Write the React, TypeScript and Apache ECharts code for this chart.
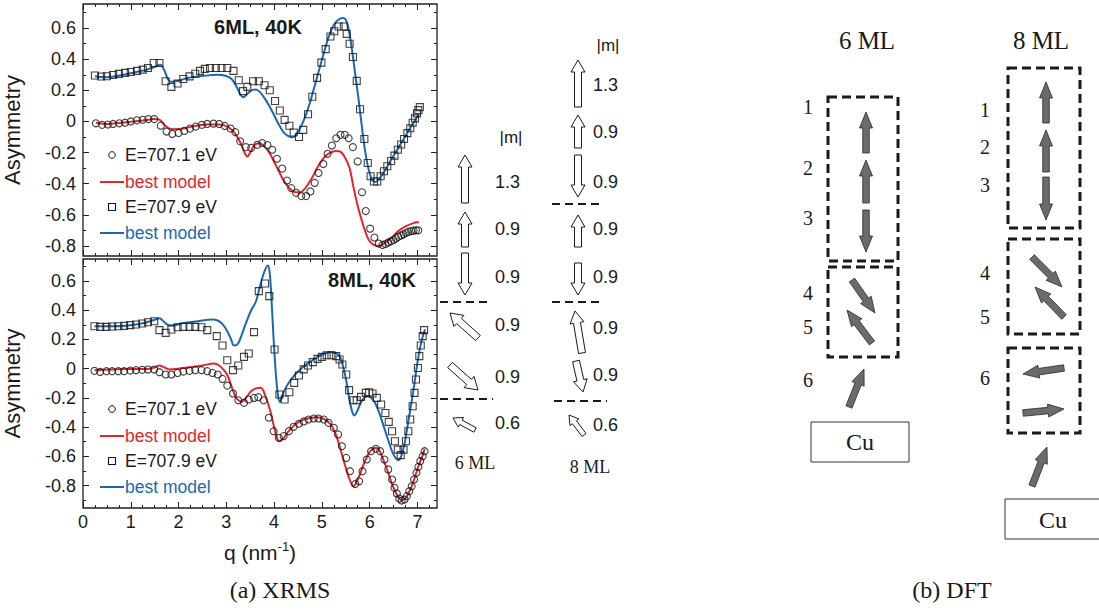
import { useEffect, useRef } from "react";
import * as echarts from "echarts";

// ---- 6 ML, 40 K ----
// E = 707.1 eV measured asymmetry
const q6Low = [0.27, 0.40, 0.52, 0.63, 0.76, 0.88, 1.00, 1.13, 1.25, 1.37, 1.49, 1.63, 1.75, 1.87, 2.00, 2.12, 2.24, 2.36, 2.49, 2.60, 2.73, 2.85, 2.97, 3.09, 3.19, 3.29, 3.41, 3.52, 3.65, 3.75, 3.86, 3.96, 4.06, 4.17, 4.27, 4.36, 4.46, 4.57, 4.67, 4.76, 4.85, 4.93, 5.03, 5.12, 5.21, 5.30, 5.39, 5.48, 5.56, 5.65, 5.75, 5.84, 5.92, 6.01, 6.10, 6.19, 6.27, 6.33, 6.39, 6.45, 6.50, 6.55, 6.60, 6.66, 6.71, 6.76, 6.81, 6.87, 6.92, 6.97, 7.02];
const a6Low = [-0.012, -0.022, -0.020, -0.016, -0.012, -0.008, 0.000, 0.007, 0.011, 0.015, 0.015, -0.027, -0.065, -0.080, -0.074, -0.061, -0.046, -0.033, -0.022, -0.016, -0.014, -0.016, -0.029, -0.046, -0.069, -0.128, -0.165, -0.170, -0.150, -0.139, -0.152, -0.182, -0.240, -0.303, -0.380, -0.429, -0.459, -0.480, -0.480, -0.450, -0.395, -0.331, -0.274, -0.208, -0.155, -0.108, -0.086, -0.086, -0.108, -0.165, -0.257, -0.455, -0.576, -0.689, -0.746, -0.785, -0.794, -0.788, -0.778, -0.770, -0.762, -0.752, -0.742, -0.733, -0.725, -0.717, -0.710, -0.705, -0.702, -0.700, -0.700];
// E = 707.9 eV measured asymmetry
const q6High = [0.25, 0.38, 0.50, 0.63, 0.75, 0.88, 1.00, 1.13, 1.25, 1.36, 1.48, 1.60, 1.73, 1.85, 1.98, 2.10, 2.23, 2.35, 2.45, 2.55, 2.66, 2.78, 2.90, 3.02, 3.15, 3.26, 3.35, 3.44, 3.56, 3.68, 3.80, 3.91, 4.02, 4.12, 4.22, 4.32, 4.41, 4.52, 4.61, 4.71, 4.80, 4.90, 4.99, 5.08, 5.18, 5.26, 5.35, 5.46, 5.52, 5.58, 5.65, 5.73, 5.80, 5.89, 5.96, 6.02, 6.09, 6.16, 6.23, 6.30, 6.37, 6.45, 6.52, 6.59, 6.66, 6.72, 6.79, 6.85, 6.90, 6.95, 6.99, 7.02, 7.05];
const a6High = [0.295, 0.289, 0.291, 0.299, 0.306, 0.312, 0.318, 0.325, 0.333, 0.344, 0.376, 0.376, 0.258, 0.222, 0.244, 0.273, 0.290, 0.307, 0.325, 0.338, 0.344, 0.344, 0.344, 0.344, 0.325, 0.265, 0.195, 0.222, 0.258, 0.258, 0.233, 0.201, 0.131, 0.070, 0.010, -0.028, -0.071, -0.100, -0.054, 0.046, 0.159, 0.280, 0.378, 0.465, 0.546, 0.580, 0.610, 0.610, 0.563, 0.499, 0.414, 0.261, 0.078, -0.113, -0.267, -0.352, -0.386, -0.386, -0.352, -0.320, -0.288, -0.254, -0.220, -0.182, -0.148, -0.113, -0.075, -0.044, -0.008, 0.020, 0.052, 0.073, 0.092];
// best-model curves
const q6LowFit = [0.27, 0.5, 0.8, 1.0, 1.3, 1.5, 1.6, 1.7, 1.8, 1.9, 2.1, 2.3, 2.6, 2.85, 3.0, 3.1, 3.2, 3.3, 3.38, 3.44, 3.5, 3.58, 3.68, 3.78, 3.9, 4.0, 4.1, 4.2, 4.32, 4.45, 4.55, 4.65, 4.78, 4.9, 5.0, 5.1, 5.2, 5.3, 5.38, 5.48, 5.58, 5.66, 5.74, 5.82, 5.9, 5.98, 6.07, 6.17, 6.3, 6.45, 6.6, 6.75, 6.9, 7.03];
const a6LowFit = [-0.008, -0.016, -0.008, -0.002, 0.008, 0.015, 0.012, -0.02, -0.045, -0.05, -0.045, -0.032, -0.02, -0.02, -0.03, -0.05, -0.085, -0.14, -0.2, -0.225, -0.2, -0.155, -0.14, -0.155, -0.2, -0.26, -0.32, -0.38, -0.43, -0.455, -0.455, -0.43, -0.37, -0.3, -0.25, -0.215, -0.198, -0.19, -0.193, -0.23, -0.3, -0.42, -0.53, -0.62, -0.7, -0.76, -0.79, -0.8, -0.785, -0.75, -0.705, -0.675, -0.655, -0.647];
const q6HighFit = [0.25, 0.45, 0.7, 1.0, 1.3, 1.5, 1.62, 1.7, 1.78, 1.85, 2.0, 2.2, 2.5, 2.8, 3.0, 3.12, 3.22, 3.3, 3.36, 3.45, 3.55, 3.62, 3.7, 3.8, 3.9, 4.0, 4.1, 4.2, 4.3, 4.38, 4.45, 4.55, 4.65, 4.75, 4.85, 4.95, 5.05, 5.15, 5.25, 5.35, 5.45, 5.52, 5.58, 5.64, 5.7, 5.77, 5.84, 5.91, 5.98, 6.05, 6.12, 6.2, 6.35, 6.5, 6.7, 6.85, 7.03];
const a6HighFit = [0.29, 0.284, 0.292, 0.31, 0.33, 0.35, 0.365, 0.33, 0.27, 0.255, 0.262, 0.28, 0.292, 0.3, 0.292, 0.27, 0.22, 0.17, 0.155, 0.18, 0.203, 0.205, 0.19, 0.15, 0.1, 0.04, -0.02, -0.07, -0.095, -0.102, -0.09, -0.04, 0.03, 0.12, 0.23, 0.34, 0.45, 0.55, 0.62, 0.655, 0.665, 0.64, 0.56, 0.44, 0.3, 0.137, -0.04, -0.2, -0.31, -0.375, -0.39, -0.37, -0.3, -0.22, -0.12, -0.04, 0.045];

// ---- 8 ML, 40 K ----
const q8Low = [0.24, 0.36, 0.49, 0.61, 0.74, 0.86, 0.99, 1.11, 1.24, 1.36, 1.49, 1.60, 1.73, 1.85, 1.98, 2.10, 2.23, 2.35, 2.48, 2.60, 2.71, 2.82, 2.92, 3.02, 3.14, 3.25, 3.37, 3.47, 3.58, 3.67, 3.78, 3.89, 3.99, 4.10, 4.20, 4.31, 4.41, 4.52, 4.62, 4.72, 4.83, 4.93, 5.04, 5.14, 5.25, 5.34, 5.42, 5.51, 5.59, 5.70, 5.78, 5.85, 5.94, 6.03, 6.13, 6.22, 6.31, 6.39, 6.47, 6.52, 6.57, 6.62, 6.67, 6.73, 6.78, 6.83, 6.88, 6.93, 6.98, 7.02, 7.06, 7.11, 7.15];
const a8Low = [-0.015, -0.022, -0.017, -0.017, -0.017, -0.017, -0.013, -0.010, -0.008, -0.006, -0.006, -0.024, -0.040, -0.040, -0.029, -0.020, -0.015, -0.010, -0.010, -0.017, -0.029, -0.040, -0.070, -0.116, -0.170, -0.216, -0.234, -0.211, -0.200, -0.195, -0.216, -0.336, -0.428, -0.473, -0.462, -0.428, -0.398, -0.377, -0.361, -0.348, -0.341, -0.341, -0.348, -0.371, -0.405, -0.450, -0.531, -0.611, -0.702, -0.790, -0.771, -0.702, -0.622, -0.565, -0.549, -0.565, -0.622, -0.690, -0.759, -0.816, -0.855, -0.889, -0.903, -0.896, -0.873, -0.839, -0.805, -0.759, -0.713, -0.672, -0.633, -0.599, -0.565];
const q8High = [0.24, 0.36, 0.49, 0.61, 0.74, 0.86, 0.99, 1.11, 1.24, 1.36, 1.49, 1.60, 1.73, 1.85, 1.98, 2.10, 2.23, 2.35, 2.48, 2.60, 2.80, 2.92, 3.02, 3.14, 3.25, 3.37, 3.47, 3.58, 3.68, 3.81, 3.90, 4.01, 4.11, 4.22, 4.32, 4.42, 4.52, 4.62, 4.71, 4.81, 4.91, 5.00, 5.10, 5.20, 5.30, 5.37, 5.43, 5.51, 5.57, 5.66, 5.73, 5.82, 5.92, 5.99, 6.06, 6.15, 6.24, 6.33, 6.40, 6.47, 6.53, 6.59, 6.65, 6.71, 6.76, 6.81, 6.85, 6.90, 6.94, 6.97, 7.01, 7.04, 7.07, 7.11, 7.14];
const a8High = [0.291, 0.286, 0.286, 0.289, 0.291, 0.293, 0.298, 0.302, 0.309, 0.318, 0.325, 0.264, 0.245, 0.268, 0.284, 0.286, 0.286, 0.286, 0.284, 0.264, 0.223, 0.159, 0.058, -0.010, 0.022, 0.081, 0.104, 0.250, 0.531, 0.583, 0.497, 0.131, -0.177, -0.211, -0.161, -0.097, -0.047, -0.005, 0.022, 0.045, 0.067, 0.081, 0.092, 0.092, 0.086, 0.063, 0.029, -0.040, -0.147, -0.216, -0.216, -0.193, -0.166, -0.161, -0.170, -0.200, -0.245, -0.303, -0.364, -0.428, -0.497, -0.554, -0.592, -0.554, -0.497, -0.428, -0.348, -0.257, -0.166, -0.074, 0.005, 0.086, 0.159, 0.223, 0.264];
const q8LowFit = [0.24, 0.6, 1.0, 1.4, 1.5, 1.6, 1.7, 1.8, 1.95, 2.2, 2.5, 2.74, 2.85, 2.95, 3.03, 3.12, 3.2, 3.27, 3.33, 3.42, 3.52, 3.62, 3.72, 3.82, 3.93, 4.03, 4.11, 4.2, 4.3, 4.44, 4.6, 4.75, 4.9, 5.05, 5.18, 5.28, 5.36, 5.44, 5.52, 5.6, 5.66, 5.72, 5.8, 5.9, 6.0, 6.08, 6.14, 6.22, 6.3, 6.39, 6.47, 6.55, 6.62, 6.68, 6.74, 6.8, 6.88, 6.95, 7.02, 7.1, 7.15];
const a8LowFit = [-0.01, -0.005, -0.002, 0.0, 0.008, 0.022, 0.01, -0.005, -0.002, 0.008, 0.022, 0.035, 0.022, -0.01, -0.05, -0.131, -0.195, -0.22, -0.226, -0.195, -0.155, -0.135, -0.131, -0.188, -0.302, -0.439, -0.497, -0.475, -0.43, -0.382, -0.35, -0.337, -0.332, -0.345, -0.38, -0.44, -0.52, -0.61, -0.7, -0.775, -0.805, -0.78, -0.72, -0.635, -0.57, -0.545, -0.542, -0.57, -0.635, -0.713, -0.79, -0.85, -0.89, -0.9, -0.89, -0.86, -0.805, -0.74, -0.668, -0.6, -0.549];
const q8HighFit = [0.24, 0.6, 1.0, 1.3, 1.5, 1.6, 1.7, 1.8, 1.9, 2.1, 2.4, 2.7, 2.82, 2.92, 3.02, 3.1, 3.16, 3.24, 3.32, 3.42, 3.52, 3.62, 3.7, 3.77, 3.83, 3.87, 3.91, 3.95, 3.99, 4.04, 4.08, 4.12, 4.2, 4.3, 4.44, 4.6, 4.75, 5.0, 5.2, 5.3, 5.38, 5.46, 5.52, 5.58, 5.64, 5.68, 5.74, 5.82, 5.9, 5.97, 6.05, 6.13, 6.22, 6.3, 6.4, 6.48, 6.55, 6.6, 6.66, 6.72, 6.78, 6.84, 6.92, 7.0, 7.08, 7.16];
const a8HighFit = [0.291, 0.29, 0.298, 0.315, 0.335, 0.345, 0.32, 0.298, 0.298, 0.313, 0.325, 0.336, 0.33, 0.305, 0.257, 0.2, 0.159, 0.17, 0.23, 0.32, 0.4, 0.46, 0.56, 0.64, 0.69, 0.706, 0.65, 0.45, 0.2, -0.05, -0.18, -0.229, -0.16, -0.1, -0.04, 0.01, 0.045, 0.097, 0.113, 0.105, 0.08, -0.006, -0.1, -0.22, -0.3, -0.32, -0.29, -0.23, -0.195, -0.188, -0.205, -0.245, -0.32, -0.4, -0.5, -0.575, -0.615, -0.627, -0.6, -0.53, -0.42, -0.3, -0.142, 0.04, 0.18, 0.27];

// ---- axis ticks ----
const xTickLabels = [0, 1, 2, 3, 4, 5, 6, 7];
const xMinorTicks = [0.25, 0.5, 0.75, 1.25, 1.5, 1.75, 2.25, 2.5, 2.75, 3.25, 3.5, 3.75, 4.25, 4.5, 4.75, 5.25, 5.5, 5.75, 6.25, 6.5, 6.75, 7.25];
const yTickLabels = [-0.8, -0.6, -0.4, -0.2, 0, 0.2, 0.4, 0.6];
const yMinorTicks = [-0.9, -0.7, -0.5, -0.3, -0.1, 0.1, 0.3, 0.5, 0.7];

// ---- magnetic moment profiles ----
const moments6 = ["1.3", "0.9", "0.9", "0.9", "0.9", "0.6"];
const moments8 = ["1.3", "0.9", "0.9", "0.9", "0.9", "0.9", "0.9", "0.6"];
const dftLayers6 = ["1", "2", "3", "4", "5", "6"];
const dftLayers8 = ["1", "2", "3", "4", "5", "6"];

const RED = "#e3262b";
const BLUE = "#1a68b3";
const INK = "#1a1a1a";
const SANS = "'Liberation Sans', Arial, Helvetica, sans-serif";
const SERIF = "'Liberation Serif', 'Times New Roman', serif";

const pts = (q: number[], a: number[]) => q.map((v, i) => [v, a[i]]);

type Pt = [number, number];

function blockArrow(tail: Pt, head: Pt, sw: number, hw: number, hl: number, style: any) {
  const dx = head[0] - tail[0];
  const dy = head[1] - tail[1];
  const L = Math.hypot(dx, dy);
  const ux = dx / L, uy = dy / L;
  const nx = -uy, ny = ux;
  const bx = head[0] - ux * hl, by = head[1] - uy * hl;
  const points = [
    [tail[0] + (nx * sw) / 2, tail[1] + (ny * sw) / 2],
    [bx + (nx * sw) / 2, by + (ny * sw) / 2],
    [bx + (nx * hw) / 2, by + (ny * hw) / 2],
    [head[0], head[1]],
    [bx - (nx * hw) / 2, by - (ny * hw) / 2],
    [bx - (nx * sw) / 2, by - (ny * sw) / 2],
    [tail[0] - (nx * sw) / 2, tail[1] - (ny * sw) / 2],
  ];
  return { type: "polygon", shape: { points }, style };
}

const hollow = { fill: "#fff", stroke: INK, lineWidth: 1 };
const solid = { fill: "#6b6b6b", stroke: "#2a2a2a", lineWidth: 0.8 };

function txt(x: number, y: number, text: string, font: string, extra: any = {}) {
  return {
    type: "text",
    x,
    y,
    style: { text, font, fill: INK, textAlign: "left", textVerticalAlign: "middle", ...extra },
  };
}

function dashedLine(x1: number, x2: number, y: number) {
  return {
    type: "line",
    shape: { x1, y1: y, x2, y2: y },
    style: { stroke: INK, lineWidth: 2, lineDash: [8, 5] },
  };
}

function dashedBox(x: number, y: number, w: number, h: number) {
  return {
    type: "rect",
    shape: { x, y, width: w, height: h },
    style: { fill: "none", stroke: INK, lineWidth: 3, lineDash: [9, 5] },
  };
}

function legendBlock(top: number) {
  const rows = [top, top + 27, top + 52, top + 78];
  const f = `17.5px ${SANS}`;
  return [
    { type: "circle", shape: { cx: 112, cy: rows[0], r: 3.3 }, style: { fill: "none", stroke: "#111", lineWidth: 1 } },
    txt(125, rows[0], "E=707.1 eV", f),
    { type: "line", shape: { x1: 100, y1: rows[1], x2: 124, y2: rows[1] }, style: { stroke: RED, lineWidth: 2 } },
    txt(125, rows[1], "best model", f, { fill: RED }),
    { type: "rect", shape: { x: 108.5, y: rows[2] - 3.5, width: 7, height: 7 }, style: { fill: "none", stroke: "#111", lineWidth: 1.1 } },
    txt(125, rows[2], "E=707.9 eV", f),
    { type: "line", shape: { x1: 100, y1: rows[3], x2: 124, y2: rows[3] }, style: { stroke: BLUE, lineWidth: 2 } },
    txt(125, rows[3], "best model", f, { fill: BLUE }),
  ];
}

function buildGraphic() {
  const g: any[] = [];
  // panel titles
  g.push(txt(258, 27, "6ML, 40K", `bold 20px ${SANS}`, { textAlign: "center" }));
  g.push(txt(372, 280, "8ML, 40K", `bold 20px ${SANS}`, { textAlign: "center" }));
  g.push(...legendBlock(155));
  g.push(...legendBlock(409));

  // moment profile, 6 ML
  const mFont = `18px ${SANS}`;
  g.push(txt(511, 137, "|m|", `17px ${SANS}`, { textAlign: "center" }));
  const a6: [Pt, Pt, number, number, number][] = [
    [[465, 203], [465, 155], 7, 14, 12],
    [[465, 247], [465, 212], 7, 14, 12],
    [[465, 253], [465, 295], 7, 14, 12],
    [[478, 338], [450, 313], 7, 15, 12],
    [[450, 365], [478, 390], 7, 15, 12],
    [[475, 430], [453, 418], 5, 11, 9],
  ];
  a6.forEach(([t, h, sw, hw, hl]) => g.push(blockArrow(t, h, sw, hw, hl, hollow)));
  [182, 229, 277, 325, 377, 423].forEach((y, i) => g.push(txt(495, y, moments6[i], mFont)));
  g.push(dashedLine(440, 492, 302));
  g.push(dashedLine(440, 493, 399));
  g.push(txt(475, 463, "6 ML", `18px ${SERIF}`, { textAlign: "center" }));

  // moment profile, 8 ML
  g.push(txt(608, 45, "|m|", `17px ${SANS}`, { textAlign: "center" }));
  const a8: [Pt, Pt, number, number, number][] = [
    [[578, 107], [578, 60], 7, 14, 12],
    [[578, 148], [578, 115], 7, 14, 12],
    [[578, 155], [578, 197], 7, 14, 12],
    [[578, 247], [578, 215], 7, 14, 12],
    [[578, 263], [578, 295], 7, 14, 12],
    [[582, 353], [575, 311], 7, 14, 12],
    [[576, 361], [583, 392], 7, 14, 12],
    [[584, 435], [569, 415], 5, 11, 9],
  ];
  a8.forEach(([t, h, sw, hw, hl]) => g.push(blockArrow(t, h, sw, hw, hl, hollow)));
  [85, 132, 182, 229, 277, 328, 375, 425].forEach((y, i) => g.push(txt(593, y, moments8[i], mFont)));
  g.push(dashedLine(552, 603, 204));
  g.push(dashedLine(552, 603, 302));
  g.push(dashedLine(554, 607, 401));
  g.push(txt(590, 467, "8 ML", `18px ${SERIF}`, { textAlign: "center" }));

  // DFT spin structures
  const cuFont = `24px ${SERIF}`;
  const layerFont = `20px ${SERIF}`;
  g.push(txt(867, 40, "6 ML", `25px ${SERIF}`, { textAlign: "center" }));
  g.push(txt(1041, 40, "8 ML", `25px ${SERIF}`, { textAlign: "center" }));

  g.push(dashedBox(828, 97, 70, 164));
  g.push(dashedBox(828, 267, 70, 90));
  const d6: [Pt, Pt][] = [
    [[866, 153], [866, 112]],
    [[866, 203], [866, 160]],
    [[866, 210], [866, 252]],
    [[852, 280], [875, 313]],
    [[872, 343], [847, 310]],
    [[849, 407], [864, 369]],
  ];
  d6.forEach(([t, h]) => g.push(blockArrow(t, h, 6.5, 13, 16, solid)));
  [107, 168, 218, 293, 327, 380].forEach((y, i) => g.push(txt(808, y, dftLayers6[i], layerFont, { textAlign: "center" })));
  g.push({ type: "rect", shape: { x: 811, y: 422, width: 98, height: 40 }, style: { fill: "none", stroke: "#333", lineWidth: 1 } });
  g.push(txt(860, 442, "Cu", cuFont, { textAlign: "center" }));

  g.push(dashedBox(1008, 68, 72, 160));
  g.push(dashedBox(1008, 239, 72, 95));
  g.push(dashedBox(1008, 348, 72, 85));
  const d8: [Pt, Pt][] = [
    [[1046, 123], [1046, 82]],
    [[1046, 172], [1046, 130]],
    [[1046, 177], [1046, 220]],
    [[1032, 257], [1062, 287]],
    [[1064, 317], [1035, 287]],
    [[1064, 368], [1023, 374]],
    [[1023, 413], [1064, 409]],
    [[1032, 486], [1047, 447]],
  ];
  d8.forEach(([t, h]) => g.push(blockArrow(t, h, 6.5, 13, 16, solid)));
  [110, 147, 185, 273, 317, 378].forEach((y, i) => g.push(txt(985, y, dftLayers8[i], layerFont, { textAlign: "center" })));
  g.push({ type: "rect", shape: { x: 1005, y: 499, width: 100, height: 40 }, style: { fill: "none", stroke: "#333", lineWidth: 1 } });
  g.push(txt(1053, 520, "Cu", cuFont, { textAlign: "center" }));

  // sub-figure captions
  g.push(txt(280, 590, "(a) XRMS", `24px ${SERIF}`, { textAlign: "center" }));
  g.push(txt(952, 590, "(b) DFT", `24px ${SERIF}`, { textAlign: "center" }));
  return g;
}

const TOP_MIN = -0.865, TOP_MAX = 0.755;
const BOT_MIN = -0.954, BOT_MAX = 0.751;
const X_MAX = 7.41;

const tickStyle = { color: "#222", width: 1 };

// one value axis carrying either the labelled (major) ticks or the minor ticks on one side of a frame
function xAxisDef(grid: number, pos: "top" | "bottom", major: boolean, labels: boolean) {
  return {
    type: "value",
    gridIndex: grid,
    position: pos,
    min: 0,
    max: X_MAX,
    axisLine: { show: false, onZero: false },
    splitLine: { show: false },
    axisTick: { show: true, inside: true, length: major ? 6 : 3, customValues: major ? xTickLabels : xMinorTicks, lineStyle: tickStyle },
    axisLabel: labels
      ? { show: true, customValues: xTickLabels, margin: 5, fontSize: 18, fontFamily: SANS, color: INK }
      : { show: false },
    ...(labels
      ? {
          name: "q (nm{s|-1})",
          nameLocation: "middle",
          nameGap: 32,
          nameTextStyle: {
            fontSize: 21,
            fontFamily: SANS,
            color: INK,
            rich: { s: { fontSize: 13, fontFamily: SANS, color: INK, verticalAlign: "top", lineHeight: 24 } },
          },
        }
      : {}),
  };
}

function yAxisDef(grid: number, pos: "left" | "right", major: boolean, labels: boolean, min: number, max: number) {
  return {
    type: "value",
    gridIndex: grid,
    position: pos,
    min,
    max,
    axisLine: { show: false, onZero: false },
    splitLine: { show: false },
    axisTick: { show: true, inside: true, length: major ? 6 : 3, customValues: major ? yTickLabels : yMinorTicks, lineStyle: tickStyle },
    axisLabel: labels
      ? { show: true, customValues: yTickLabels, margin: 7, fontSize: 18, fontFamily: SANS, color: INK }
      : { show: false },
    ...(labels
      ? {
          name: "Asymmetry",
          nameLocation: "middle",
          nameRotate: 90,
          nameGap: 60,
          nameTextStyle: { fontSize: 22, fontFamily: SANS, color: INK },
        }
      : {}),
  };
}

function lineSeries(xi: number, yi: number, data: number[][], color: string) {
  return {
    type: "line",
    xAxisIndex: xi,
    yAxisIndex: yi,
    data,
    showSymbol: false,
    smooth: 0.35,
    lineStyle: { color, width: 2 },
    z: 2,
  };
}

function markerSeries(xi: number, yi: number, data: number[][], symbol: string) {
  return {
    type: "scatter",
    xAxisIndex: xi,
    yAxisIndex: yi,
    data,
    symbol,
    symbolSize: 7,
    itemStyle: { color: "rgba(0,0,0,0)", borderColor: "#111", borderWidth: 1.1 },
    z: 3,
  };
}

export default function App() {
  const ref = useRef<HTMLDivElement>(null);
  useEffect(() => {
    if (!ref.current) return;
    const chart = echarts.init(ref.current, undefined, { renderer: "svg" });
    // axis index layout per grid: 0 bottom-major(labels) 1 bottom-minor 2 top-major 3 top-minor
    const xAxes = [0, 1].flatMap((gi) => [
      xAxisDef(gi, "bottom", true, gi === 1),
      xAxisDef(gi, "bottom", false, false),
      xAxisDef(gi, "top", true, false),
      xAxisDef(gi, "top", false, false),
    ]);
    const yAxes = [
      [0, TOP_MIN, TOP_MAX],
      [1, BOT_MIN, BOT_MAX],
    ].flatMap(([gi, mn, mx]) => [
      yAxisDef(gi, "left", true, true, mn, mx),
      yAxisDef(gi, "left", false, false, mn, mx),
      yAxisDef(gi, "right", true, false, mn, mx),
      yAxisDef(gi, "right", false, false, mn, mx),
    ]);
    chart.setOption({
      animation: false,
      backgroundColor: "#ffffff",
      grid: [
        { left: 82, top: 4, width: 355, height: 252, show: true, borderColor: "#1f1f1f", borderWidth: 1.3, backgroundColor: "transparent" },
        { left: 82, top: 259, width: 355, height: 249, show: true, borderColor: "#1f1f1f", borderWidth: 1.3, backgroundColor: "transparent" },
      ],
      xAxis: xAxes,
      yAxis: yAxes,
      series: [
        lineSeries(0, 0, pts(q6LowFit, a6LowFit), RED),
        lineSeries(0, 0, pts(q6HighFit, a6HighFit), BLUE),
        markerSeries(0, 0, pts(q6Low, a6Low), "circle"),
        markerSeries(0, 0, pts(q6High, a6High), "rect"),
        lineSeries(4, 4, pts(q8LowFit, a8LowFit), RED),
        lineSeries(4, 4, pts(q8HighFit, a8HighFit), BLUE),
        markerSeries(4, 4, pts(q8Low, a8Low), "circle"),
        markerSeries(4, 4, pts(q8High, a8High), "rect"),
      ],
      graphic: buildGraphic(),
    });
    return () => chart.dispose();
  }, []);
  return <div ref={ref} style={{ position: "absolute", left: 0, top: 0, width: 1099, height: 611 }} />;
}
